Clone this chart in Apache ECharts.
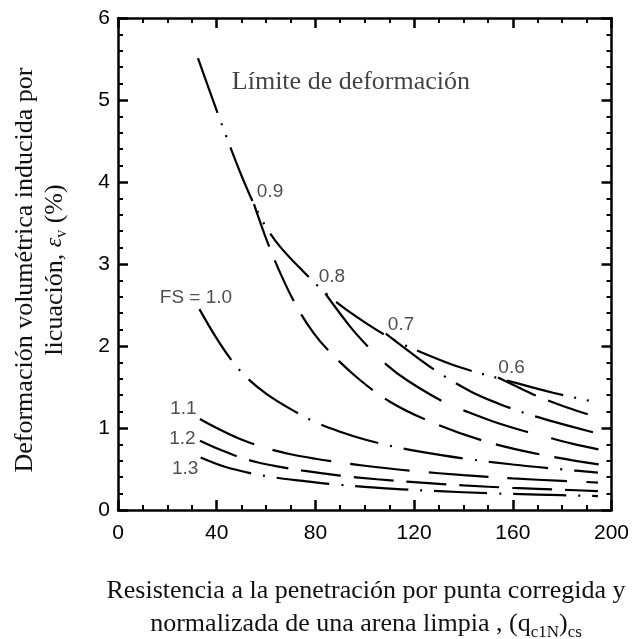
<!DOCTYPE html>
<html>
<head>
<meta charset="utf-8">
<script src="https://cdn.jsdelivr.net/npm/echarts@6/dist/echarts.min.js"></script>
<style>
  html, body { margin: 0; padding: 0; background: #fff; }
  #chart { width: 633px; height: 639px; }
</style>
</head>
<body>
<div id="chart"></div>
<script>
// Curves are [ (qc1N)cs , volumetric strain εv (%) ]
const limitCurve = [
  [32.4, 5.51], [40.5, 4.83], [46.1, 4.38], [50.7, 4.03], [55.1, 3.73],
  [60, 3.45], [66, 3.20], [75.4, 2.90], [85.1, 2.62], [96, 2.37],
  [110.2, 2.10], [122.4, 1.93], [138.6, 1.74], [160, 1.56], [176.3, 1.43],
  [194.5, 1.31]
];
const fs06 = [
  [154, 1.615], [163, 1.485], [171, 1.375], [182, 1.25], [194.5, 1.13]
];
const fs07 = [
  [108.5, 2.15], [121.7, 1.85], [131.8, 1.64], [143.3, 1.44], [154, 1.30],
  [165, 1.18], [175, 1.09], [194.7, 0.93]
];
const fs08 = [
  [84.0, 2.64], [94, 2.24], [101.4, 1.99], [108.9, 1.77], [117, 1.585],
  [131.8, 1.32], [141.3, 1.20], [152, 1.08], [164.9, 0.96], [173.7, 0.89],
  [184, 0.81], [194.7, 0.74]
];
const fs09 = [
  [55.1, 3.73], [60.4, 3.28], [66.5, 2.84], [73, 2.45], [79, 2.17],
  [85.1, 1.95], [97.1, 1.61], [110.2, 1.32], [126.4, 1.08], [147.4, 0.85],
  [169, 0.69], [195, 0.555]
];
const fs10 = [
  [33.0, 2.45], [39.4, 2.12], [45.7, 1.84], [52, 1.62], [60, 1.42],
  [70, 1.23], [80, 1.07], [90, 0.955], [100, 0.86], [110, 0.785],
  [120, 0.725], [141, 0.625], [160, 0.555], [180, 0.495], [194.5, 0.455]
];
const fs11 = [
  [33.2, 1.11], [40, 1.00], [50, 0.86], [60, 0.755], [70, 0.68],
  [80, 0.625], [90, 0.58], [100, 0.54], [120, 0.475], [140, 0.425],
  [160, 0.385], [180, 0.355], [194.5, 0.335]
];
const fs12 = [
  [33.2, 0.845], [41, 0.74], [49.2, 0.645], [56, 0.585], [64, 0.535],
  [75, 0.48], [90, 0.42], [105, 0.375], [120, 0.34], [140, 0.30],
  [160, 0.27], [180, 0.248], [194.5, 0.23]
];
const fs13 = [
  [33.5, 0.64], [43, 0.53], [54, 0.447], [65, 0.39], [75, 0.355],
  [87, 0.315], [100, 0.283], [115, 0.252], [130, 0.23], [150, 0.205],
  [170, 0.188], [194.5, 0.17]
];

// Curve annotations: [x, y, text]
const curveLabels = [
  [31.6, 2.585, 'FS = 1.0'],
  [26.5, 1.238, '1.1'],
  [26.1, 0.872, '1.2'],
  [27.2, 0.506, '1.3'],
  [61.6, 3.884, '0.9'],
  [86.7, 2.841, '0.8'],
  [114.7, 2.256, '0.7'],
  [159.5, 1.738, '0.6']
];
const limitLabel = [[94.4, 5.22, 'Límite de deformación']];

// Axis ranges
const xRange = { min: 0, max: 200, step: 40, minorSplit: 4 };
const yRange = { min: 0, max: 6, step: 1, minorSplit: 5 };

const SANS = '"Liberation Sans", Arial, Helvetica, sans-serif';
const SERIF = '"Liberation Serif", "Times New Roman", serif';
const INK = '#000';

function frameAxis(range, position, showLabels) {
  return {
    type: 'value',
    position: position,
    min: range.min,
    max: range.max,
    interval: range.step,
    axisLine: { show: true, onZero: false, lineStyle: { color: '#000', width: 2.5 } },
    axisTick: { show: true, inside: true, length: 10, lineStyle: { color: '#000', width: 2.5 } },
    minorTick: { show: true, splitNumber: range.minorSplit, length: 5, lineStyle: { color: '#000', width: 2 } },
    splitLine: { show: false },
    minorSplitLine: { show: false },
    axisLabel: showLabels
      ? { show: true, color: INK, fontSize: 21, fontFamily: SANS, margin: position === 'bottom' ? 13 : 8 }
      : { show: false }
  };
}

function curve(data, dash) {
  return {
    type: 'line',
    data: data,
    xAxisIndex: 0,
    yAxisIndex: 0,
    smooth: 0.35,
    symbol: 'none',
    silent: true,
    lineStyle: { color: '#000', width: 2.2, type: dash, cap: 'butt' }
  };
}

const chart = echarts.init(document.getElementById('chart'), null, { renderer: 'canvas' });

chart.setOption({
  animation: false,
  backgroundColor: '#fff',
  grid: { left: 118, right: 21.5, top: 18, bottom: 129, containLabel: false },
  xAxis: [frameAxis(xRange, 'bottom', true), frameAxis(xRange, 'top', false)],
  yAxis: [frameAxis(yRange, 'left', true), frameAxis(yRange, 'right', false)],
  series: [
    curve(limitCurve, [58, 11, 2, 11, 2, 11]),
    curve(fs06, [42, 13]),
    curve(fs07, [60, 12, 2, 12]),
    curve(fs08, [68, 24]),
    curve(fs09, [45, 15]),
    curve(fs10, [60, 12, 2, 12]),
    curve(fs11, [60, 19]),
    curve(fs12, [40, 13]),
    curve(fs13, [53, 12, 2, 12]),
    {
      type: 'scatter',
      data: curveLabels,
      symbolSize: 0,
      silent: true,
      label: {
        show: true, position: 'inside', formatter: p => p.data[2],
        color: '#222', fontSize: 19, fontFamily: SANS
      }
    },
    {
      type: 'scatter',
      data: limitLabel,
      symbolSize: 0,
      silent: true,
      label: {
        show: true, position: 'inside', formatter: p => p.data[2],
        color: '#111', fontSize: 26, fontFamily: SERIF
      }
    }
  ],
  graphic: [
    {
      type: 'text',
      x: 366,
      y: 608,
      silent: true,
      style: {
        text: '{a|Resistencia a la penetración por punta corregida y}\n' +
              '{a|normalizada de una arena limpia , (q}{s|c1N}{a|)}{s|cs}',
        textAlign: 'center',
        textVerticalAlign: 'middle',
        rich: {
          a: { fontFamily: SERIF, fontSize: 26, lineHeight: 33, fill: '#111' },
          s: { fontFamily: SERIF, fontSize: 17, lineHeight: 17, verticalAlign: 'bottom', fill: '#111' }
        }
      }
    },
    {
      type: 'text',
      x: 40,
      y: 270,
      rotation: Math.PI / 2,
      silent: true,
      style: {
        text: '{a|Deformación volumétrica inducida por}\n' +
              '{a|licuación, }{e|ε}{s|v}{a| (%)}',
        textAlign: 'center',
        textVerticalAlign: 'middle',
        rich: {
          a: { fontFamily: SERIF, fontSize: 26, lineHeight: 30, fill: '#111' },
          e: { fontFamily: SERIF, fontSize: 24, fontStyle: 'italic', lineHeight: 30, fill: '#111' },
          s: { fontFamily: SERIF, fontSize: 16, lineHeight: 16, verticalAlign: 'bottom', fill: '#111' }
        }
      }
    }
  ]
});
</script>
</body>
</html>
